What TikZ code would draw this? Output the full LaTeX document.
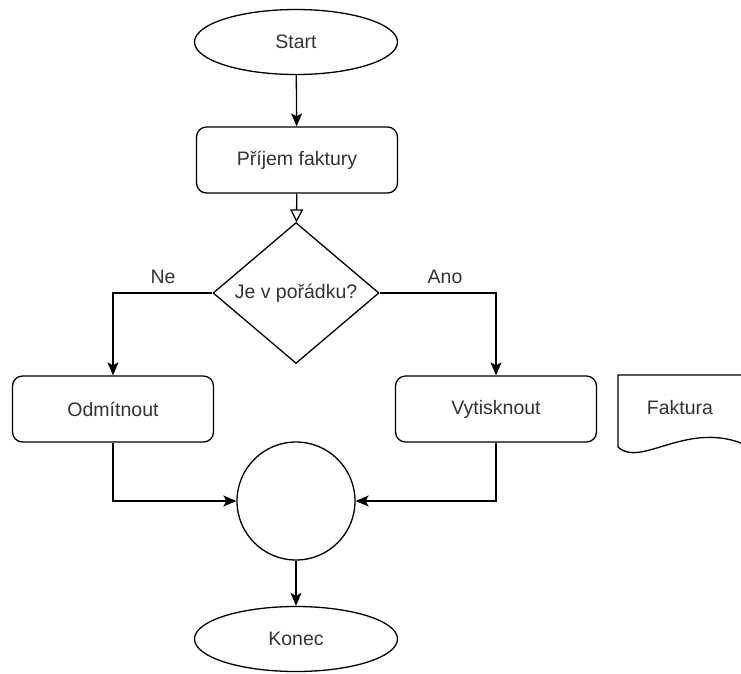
\documentclass[tikz,border=0pt]{standalone}
\usepackage{fontspec}
\setmainfont{Liberation Sans}
\usetikzlibrary{shapes.geometric,arrows.meta}
\definecolor{txt}{HTML}{333333}
\tikzset{
  box/.style={draw, line width=1.3pt, text=txt, font=\fontsize{19.5}{23}\selectfont},
  term/.style={box, ellipse, minimum width=203pt, minimum height=65pt},
  proc/.style={box, rectangle, rounded corners=10pt, minimum width=201pt, minimum height=66pt},
  dec/.style={box, diamond, minimum width=166pt, minimum height=132pt, inner sep=0pt},
  joint/.style={box, circle, minimum size=118pt},
  lbl/.style={text=txt, font=\fontsize{19.5}{23}\selectfont},
  arr/.style={line width=1.3pt, -{Stealth[length=13pt,width=11pt,inset=3pt]}},
  oarr/.style={line width=1.3pt, -{Triangle[open,length=13pt,width=13pt]}}
}
\begin{document}
\begin{tikzpicture}[x=1pt,y=-1pt]
  \useasboundingbox (0,0) rectangle (741,673);
  \node[term] (start) at (296,42) {Start};
  \node[proc] (prijem) at (297,160) {Příjem faktury};
  \node[dec] (dec) at (296,293) {Je v pořádku?};
  \node[proc] (odm) at (113,409) {Odmítnout};
  \node[proc] (vyt) at (496,409) {Vytisknout};
  \node[joint] (spoj) at (296,501) {};
  \node[term] (konec) at (296,639) {Konec};
  \node[lbl] (ne) at (163,277) {Ne};
  \node[lbl] (ano) at (445,277) {Ano};
  \node[lbl] (fakt) at (680,408) {Faktura};
  \draw[line width=1.3pt] (741,375) -- (618,375) -- (618,447)
    .. controls (640,468) and (685,422) .. (741,443);
  \begin{scope}[line width=1.3pt]
    \draw[arr] (start) -- (prijem);
    \draw[oarr] (prijem) -- (dec);
    \draw[arr] (dec.west) -| (odm.north);
    \draw[arr] (dec.east) -| (vyt.north);
    \draw[arr] (odm.south) |- (spoj.west);
    \draw[arr] (vyt.south) |- (spoj.east);
    \draw[arr] (spoj) -- (konec);
  \end{scope}
\end{tikzpicture}
\end{document}
